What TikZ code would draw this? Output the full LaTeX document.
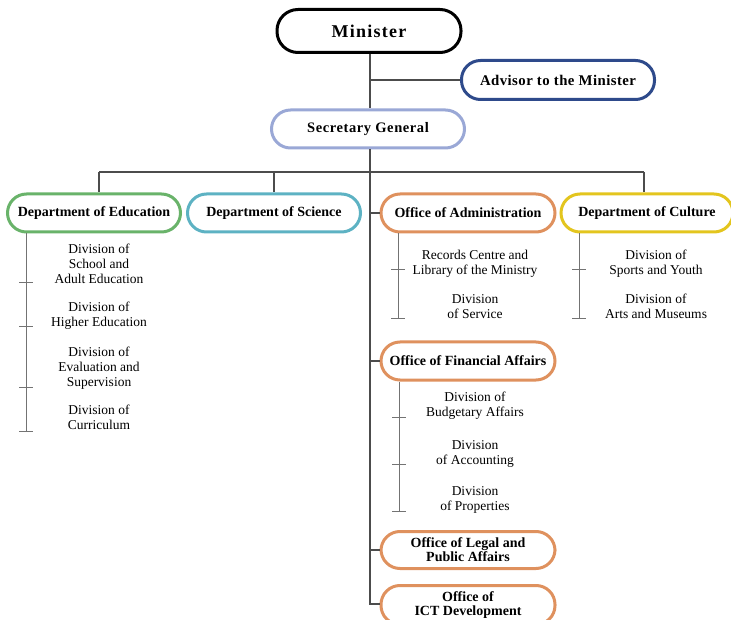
\documentclass[tikz,border=0pt]{standalone}
\usepackage{fontspec}
\setmainfont{Liberation Serif}
\begin{document}
\begin{tikzpicture}[x=1pt,y=-1pt,
  box/.style={draw, line width=3pt, rounded corners=19pt, minimum height=38pt, inner sep=2pt, align=center, font=\fontsize{14}{14}\selectfont\bfseries, fill=white},
  sub/.style={align=center, font=\fontsize{13.5}{15}\selectfont, inner sep=0pt},
  conn/.style={draw=black!70, line width=1.4pt},
  subline/.style={draw=black!55, line width=1pt}]
\useasboundingbox (0,0) rectangle (731,620);
\definecolor{cMin}{HTML}{000000}
\definecolor{cAdv}{HTML}{2E4A8B}
\definecolor{cSec}{HTML}{9AA8D6}
\definecolor{cEdu}{HTML}{69B36A}
\definecolor{cSci}{HTML}{5DB2C3}
\definecolor{cOff}{HTML}{DF915E}
\definecolor{cCul}{HTML}{E3C51E}

% main nodes
\node[box, draw=cMin, minimum width=184pt, minimum height=43pt, rounded corners=21pt, font=\fontsize{18}{18}\selectfont\bfseries\addfontfeature{LetterSpace=7}] (min) at (369,31) {Minister};
\node[box, draw=cAdv, minimum width=193pt, minimum height=39pt, font=\fontsize{14.8}{15}\selectfont\bfseries\addfontfeature{LetterSpace=3}] (adv) at (558,80) {Advisor to the Minister};
\node[box, draw=cSec, minimum width=193pt, font=\fontsize{14.5}{15}\selectfont\bfseries\addfontfeature{LetterSpace=4}] (sec) at (368,129) {Secretary General};
\node[box, draw=cEdu, minimum width=173pt] (edu) at (94,213) {Department of Education};
\node[box, draw=cSci, minimum width=173pt] (sci) at (274,213) {Department of Science};
\node[box, draw=cOff, minimum width=174pt] (adm) at (468,213) {Office of Administration};
\node[box, draw=cCul, minimum width=172pt] (cul) at (647,213) {Department of Culture};
\node[box, draw=cOff, minimum width=174pt] (fin) at (468,361) {Office of Financial Affairs};
\node[box, draw=cOff, minimum width=174pt, minimum height=37pt, font=\fontsize{14}{14}\selectfont\bfseries] (leg) at (468,550) {Office of Legal and\\Public Affairs};
\node[box, draw=cOff, minimum width=174pt, minimum height=39pt, font=\fontsize{14}{14}\selectfont\bfseries] (ict) at (468,605) {Office of\\ICT Development};

% coordinates
\coordinate (m1) at (370,80);
\coordinate (bus) at (370,172);
\coordinate (busL) at (99,172);
\coordinate (busS) at (274,172);
\coordinate (busR) at (644,172);
\coordinate (jA) at (370,213);
\coordinate (jF) at (370,361);
\coordinate (jL) at (370,550);
\coordinate (jI) at (370,604);

% connectors
\draw[conn] (min.south -| m1) -- (sec.north -| m1);
\draw[conn] (m1) -- (adv.west);
\draw[conn] (sec.south -| bus) -- (jI) -- (ict.west |- jI);
\draw[conn] (busL) -- (busR);
\draw[conn] (busL) -- (edu.north -| busL);
\draw[conn] (busS) -- (sci.north);
\draw[conn] (busR) -- (cul.north -| busR);
\draw[conn] (jA) -- (adm.west);
\draw[conn] (jF) -- (fin.west);
\draw[conn] (jL) -- (leg.west);

% Education sub list
\coordinate (e0) at (26,232);
\coordinate (e1) at (26,283);
\coordinate (e2) at (26,327);
\coordinate (e3) at (26,387);
\coordinate (e4) at (26,431);
\draw[subline] (edu.south -| e0) -- (e4);
\foreach \c in {e1,e2,e3,e4} \draw[subline] ([xshift=-7pt]\c) -- ([xshift=7pt]\c);
\node[sub, anchor=north] (ed1) at (99,244) {Division of\\School and\\Adult Education};
\node[sub, anchor=north] (ed2) at (99,302) {Division of\\Higher Education};
\node[sub, anchor=north] (ed3) at (99,347) {Division of\\Evaluation and\\Supervision};
\node[sub, anchor=north] (ed4) at (99,405) {Division of\\Curriculum};

% Administration sub list
\coordinate (a0) at (398,232);
\coordinate (a1) at (398,270);
\coordinate (a2) at (398,319);
\draw[subline] (adm.south -| a0) -- (a2);
\foreach \c in {a1,a2} \draw[subline] ([xshift=-7pt]\c) -- ([xshift=7pt]\c);
\node[sub, anchor=north] (ad1) at (475,250) {Records Centre and\\Library of the Ministry};
\node[sub, anchor=north] (ad2) at (475,294) {Division\\of Service};

% Culture sub list
\coordinate (c0) at (579,232);
\coordinate (c1) at (579,270);
\coordinate (c2) at (579,319);
\draw[subline] (cul.south -| c0) -- (c2);
\foreach \c in {c1,c2} \draw[subline] ([xshift=-7pt]\c) -- ([xshift=7pt]\c);
\node[sub, anchor=north] (cu1) at (656,250) {Division of\\Sports and Youth};
\node[sub, anchor=north] (cu2) at (656,294) {Division of\\Arts and Museums};

% Financial sub list
\coordinate (f0) at (399,380);
\coordinate (f1) at (399,417);
\coordinate (f2) at (399,464);
\coordinate (f3) at (399,511);
\draw[subline] (fin.south -| f0) -- (f3);
\foreach \c in {f1,f2,f3} \draw[subline] ([xshift=-7pt]\c) -- ([xshift=7pt]\c);
\node[sub, anchor=north] (fi1) at (475,392) {Division of\\Budgetary Affairs};
\node[sub, anchor=north] (fi2) at (475,440) {Division\\of Accounting};
\node[sub, anchor=north] (fi3) at (475,486) {Division\\of Properties};
\end{tikzpicture}
\end{document}
